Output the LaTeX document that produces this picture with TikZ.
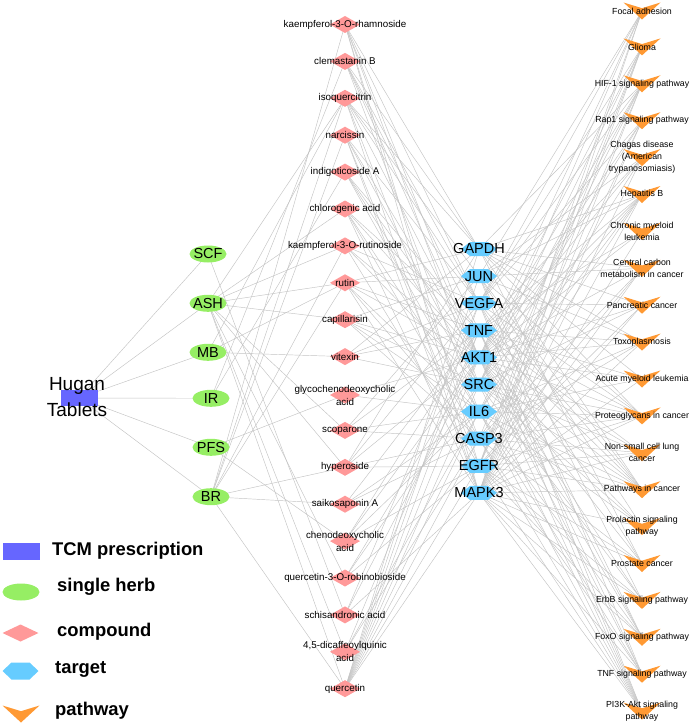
\documentclass[tikz,border=0pt]{standalone}
\usepackage{fontspec}
\setmainfont{Liberation Sans}
\usetikzlibrary{calc,shapes.geometric,backgrounds}

\definecolor{tcmblue}{RGB}{102,102,255}
\definecolor{herbgreen}{RGB}{150,238,100}
\definecolor{cpdpink}{RGB}{255,153,153}
\definecolor{tgtblue}{RGB}{102,204,255}
\definecolor{pathorange}{RGB}{255,153,51}
\definecolor{edgegray}{RGB}{195,195,195}

\tikzset{
	edge/.style={line width=0.45pt, color=edgegray},
	tcm/.style={rectangle, fill=tcmblue, minimum width=37pt, minimum height=16pt, inner sep=0pt},
	herb/.style={ellipse, fill=herbgreen, minimum width=37pt, minimum height=17pt, inner sep=0pt},
	cpd/.style={rectangle, minimum width=30pt, minimum height=17pt, inner sep=0pt,
		path picture={\fill[cpdpink] (path picture bounding box.west) -- (path picture bounding box.north)
			-- (path picture bounding box.east) -- (path picture bounding box.south) -- cycle;}},
	tgt/.style={rectangle, minimum width=36pt, minimum height=14pt, inner sep=0pt,
		path picture={\fill[tgtblue] (path picture bounding box.west)
			-- ($(path picture bounding box.north west)!.25!(path picture bounding box.north east)$)
			-- ($(path picture bounding box.north west)!.75!(path picture bounding box.north east)$)
			-- (path picture bounding box.east)
			-- ($(path picture bounding box.south west)!.75!(path picture bounding box.south east)$)
			-- ($(path picture bounding box.south west)!.25!(path picture bounding box.south east)$) -- cycle;}},
	pwy/.style={rectangle, minimum width=37pt, minimum height=17pt, inner sep=0pt,
		path picture={\fill[pathorange] (path picture bounding box.north west)
			-- ($(path picture bounding box.north)!.333!(path picture bounding box.south)$)
			-- (path picture bounding box.north east) -- (path picture bounding box.south) -- cycle;}},
	tcmtxt/.style={font=\fontsize{19}{26.5}\selectfont, align=center, inner sep=0pt},
	herbtxt/.style={font=\fontsize{14.5}{16}\selectfont, inner sep=0pt},
	cpdtxt/.style={font=\fontsize{9.8}{13}\selectfont, align=center, inner sep=0pt},
	tgttxt/.style={font=\fontsize{14.5}{16}\selectfont, inner sep=0pt},
	pwytxt/.style={font=\fontsize{8.8}{12}\selectfont, align=center, inner sep=0pt},
	legtxt/.style={font=\bfseries\fontsize{18.4}{20}\selectfont, inner sep=0pt, anchor=base west}
}

\begin{document}
\begin{tikzpicture}[x=1pt, y=-1pt]
			%%%%% START %%%%%
			\useasboundingbox (0, 0) rectangle (692, 725);
			
			% prescription
			\node[tcm, label={[tcmtxt, xshift=-2pt, yshift=1pt]center:Hugan\\Tablets}] (hugan) at (79, 398) {};
			
			% herbs
			\node[herb, label={[herbtxt]center:SCF}] (SCF) at (208, 254) {};
			\node[herb, label={[herbtxt]center:ASH}] (ASH) at (208, 303.3) {};
			\node[herb, label={[herbtxt]center:MB}] (MB) at (208, 352.3) {};
			\node[herb, label={[herbtxt]center:IR}] (IR) at (211, 398.3) {};
			\node[herb, label={[herbtxt]center:PFS}] (PFS) at (211, 447.3) {};
			\node[herb, label={[herbtxt]center:BR}] (BR) at (211, 496.7) {};
			
			% compounds
			\node[cpd, label={[cpdtxt]center:kaempferol-3-O-rhamnoside}] (kr3) at (345, 24.5) {};
			\node[cpd, label={[cpdtxt]center:clemastanin B}] (clemB) at (345, 61.4) {};
			\node[cpd, label={[cpdtxt]center:isoquercitrin}] (isoq) at (345, 98.3) {};
			\node[cpd, label={[cpdtxt]center:narcissin}] (narc) at (345, 135.2) {};
			\node[cpd, label={[cpdtxt]center:indigoticoside A}] (indA) at (345, 172.1) {};
			\node[cpd, label={[cpdtxt]center:chlorogenic acid}] (chlA) at (345, 209.0) {};
			\node[cpd, label={[cpdtxt]center:kaempferol-3-O-rutinoside}] (kru3) at (345, 245.9) {};
			\node[cpd, label={[cpdtxt]center:rutin}] (rutin) at (345, 282.8) {};
			\node[cpd, label={[cpdtxt]center:capillarisin}] (capil) at (345, 319.7) {};
			\node[cpd, label={[cpdtxt]center:vitexin}] (vitex) at (345, 356.6) {};
			\node[cpd, label={[cpdtxt]center:{glycochenodeoxycholic\\acid}}] (gcdca) at (345, 395) {};
			\node[cpd, label={[cpdtxt]center:scoparone}] (scop) at (345, 430.4) {};
			\node[cpd, label={[cpdtxt]center:hyperoside}] (hyper) at (345, 467.3) {};
			\node[cpd, label={[cpdtxt]center:saikosaponin A}] (saikA) at (345, 504.2) {};
			\node[cpd, label={[cpdtxt]center:{chenodeoxycholic\\acid}}] (cdca) at (345, 541.1) {};
			\node[cpd, label={[cpdtxt]center:quercetin-3-O-robinobioside}] (qrob) at (345, 578.0) {};
			\node[cpd, label={[cpdtxt]center:schisandronic acid}] (schA) at (345, 614.9) {};
			\node[cpd, label={[cpdtxt]center:{4,5-dicaffeoylquinic\\acid}}] (dcqa) at (345, 651.8) {};
			\node[cpd, label={[cpdtxt]center:quercetin}] (querc) at (345, 688.7) {};
			
			% targets
			\node[tgt, label={[tgttxt]center:GAPDH}] (GAPDH) at (479, 249) {};
			\node[tgt, label={[tgttxt]center:JUN}] (JUN) at (479, 276.1) {};
			\node[tgt, label={[tgttxt]center:VEGFA}] (VEGFA) at (479, 303.2) {};
			\node[tgt, label={[tgttxt]center:TNF}] (TNF) at (479, 330.3) {};
			\node[tgt, label={[tgttxt]center:AKT1}] (AKT1) at (479, 357.4) {};
			\node[tgt, label={[tgttxt]center:SRC}] (SRC) at (479, 384.5) {};
			\node[tgt, label={[tgttxt]center:IL6}] (IL6) at (479, 411.6) {};
			\node[tgt, label={[tgttxt]center:CASP3}] (CASP3) at (479, 438.7) {};
			\node[tgt, label={[tgttxt]center:EGFR}] (EGFR) at (479, 465.8) {};
			\node[tgt, label={[tgttxt]center:MAPK3}] (MAPK3) at (479, 492.9) {};
			
			% pathways
			\node[pwy, label={[pwytxt]center:Focal adhesion}] (focal) at (642, 11) {};
			\node[pwy, label={[pwytxt]center:Glioma}] (glioma) at (642, 46.9) {};
			\node[pwy, label={[pwytxt]center:HIF-1 signaling pathway}] (hif1) at (642, 83.8) {};
			\node[pwy, label={[pwytxt]center:Rap1 signaling pathway}] (rap1) at (642, 120.7) {};
			\node[pwy, label={[pwytxt]center:{Chagas disease\\(American\\trypanosomiasis)}}] (chagas) at (642, 157.6) {};
			\node[pwy, label={[pwytxt]center:Hepatitis B}] (hepB) at (642, 194.5) {};
			\node[pwy, label={[pwytxt]center:{Chronic myeloid\\leukemia}}] (cml) at (642, 231.4) {};
			\node[pwy, label={[pwytxt]center:{Central carbon\\metabolism in cancer}}] (carbon) at (642, 268.3) {};
			\node[pwy, label={[pwytxt]center:Pancreatic cancer}] (pancr) at (642, 305.2) {};
			\node[pwy, label={[pwytxt]center:Toxoplasmosis}] (toxo) at (642, 342.1) {};
			\node[pwy, label={[pwytxt]center:Acute myeloid leukemia}] (aml) at (642, 379.0) {};
			\node[pwy, label={[pwytxt]center:Proteoglycans in cancer}] (proteo) at (642, 415.9) {};
			\node[pwy, label={[pwytxt]center:{Non-small cell lung\\cancer}}] (nsclc) at (642, 452.8) {};
			\node[pwy, label={[pwytxt]center:Pathways in cancer}] (cancer) at (642, 489.7) {};
			\node[pwy, label={[pwytxt]center:{Prolactin signaling\\pathway}}] (prolac) at (642, 526.6) {};
			\node[pwy, label={[pwytxt]center:Prostate cancer}] (prost) at (642, 563.5) {};
			\node[pwy, label={[pwytxt]center:ErbB signaling pathway}] (erbb) at (642, 600.4) {};
			\node[pwy, label={[pwytxt]center:FoxO signaling pathway}] (foxo) at (642, 637.3) {};
			\node[pwy, label={[pwytxt]center:TNF signaling pathway}] (tnfsig) at (642, 674.2) {};
			\node[pwy, label={[pwytxt]center:{PI3K-Akt signaling\\pathway}}] (pi3k) at (642, 711.1) {};
			
			% edges, behind the nodes
			\begin{scope}[on background layer]
			\foreach \h in {SCF,ASH,MB,IR,PFS,BR} \draw[edge] (hugan.center) -- (\h.center);
			
			\foreach \c in {schA} \draw[edge] (SCF.center) -- (\c.center);
			\foreach \c in {isoq,chlA,kru3,rutin,capil,scop,hyper,qrob,dcqa,querc} \draw[edge] (ASH.center) -- (\c.center);
			\foreach \c in {isoq,rutin,vitex} \draw[edge] (MB.center) -- (\c.center);
			\foreach \c in {clemB,indA} \draw[edge] (IR.center) -- (\c.center);
			\foreach \c in {gcdca,cdca} \draw[edge] (PFS.center) -- (\c.center);
			\foreach \c in {kr3,narc,kru3,isoq,rutin,hyper,saikA,querc} \draw[edge] (BR.center) -- (\c.center);
			
			\foreach \t in {GAPDH,VEGFA,AKT1,SRC,EGFR,MAPK3} \draw[edge] (kr3.center) -- (\t.center);
			\foreach \t in {GAPDH,VEGFA,TNF,AKT1,IL6} \draw[edge] (clemB.center) -- (\t.center);
			\foreach \t in {GAPDH,JUN,VEGFA,AKT1,CASP3,MAPK3} \draw[edge] (isoq.center) -- (\t.center);
			\foreach \t in {VEGFA,AKT1,SRC,EGFR,MAPK3} \draw[edge] (narc.center) -- (\t.center);
			\foreach \t in {TNF,AKT1,SRC,IL6} \draw[edge] (indA.center) -- (\t.center);
			\foreach \t in {TNF,AKT1,IL6,CASP3,MAPK3} \draw[edge] (chlA.center) -- (\t.center);
			\foreach \t in {VEGFA,AKT1,SRC,EGFR} \draw[edge] (kru3.center) -- (\t.center);
			\foreach \t in {GAPDH,JUN,TNF,AKT1,IL6,CASP3,MAPK3} \draw[edge] (rutin.center) -- (\t.center);
			\foreach \t in {JUN,AKT1,SRC,IL6,CASP3} \draw[edge] (capil.center) -- (\t.center);
			\foreach \t in {GAPDH,VEGFA,TNF,SRC} \draw[edge] (vitex.center) -- (\t.center);
			\foreach \t in {AKT1,IL6} \draw[edge] (gcdca.center) -- (\t.center);
			\foreach \t in {JUN,TNF,IL6,CASP3} \draw[edge] (scop.center) -- (\t.center);
			\foreach \t in {GAPDH,VEGFA,AKT1,CASP3,EGFR} \draw[edge] (hyper.center) -- (\t.center);
			\foreach \t in {TNF,IL6,CASP3} \draw[edge] (saikA.center) -- (\t.center);
			\foreach \t in {TNF,AKT1,IL6,EGFR} \draw[edge] (cdca.center) -- (\t.center);
			\foreach \t in {AKT1,SRC,EGFR} \draw[edge] (qrob.center) -- (\t.center);
			\foreach \t in {VEGFA,AKT1,MAPK3} \draw[edge] (schA.center) -- (\t.center);
			\foreach \t in {TNF,IL6,CASP3} \draw[edge] (dcqa.center) -- (\t.center);
			\foreach \t in {GAPDH,JUN,VEGFA,TNF,AKT1,SRC,IL6,CASP3,EGFR,MAPK3} \draw[edge] (querc.center) -- (\t.center);
			
			\foreach \p in {hif1,hepB,carbon,pancr,toxo,aml,proteo,cancer,prost} \draw[edge] (GAPDH.center) -- (\p.center);
			\foreach \p in {focal,chagas,hepB,carbon,toxo,proteo,cancer,prolac,erbb,tnfsig} \draw[edge] (JUN.center) -- (\p.center);
			\foreach \p in {focal,glioma,hif1,rap1,pancr,proteo,cancer,prost,foxo,pi3k} \draw[edge] (VEGFA.center) -- (\p.center);
			\foreach \p in {chagas,hepB,cml,toxo,aml,proteo,nsclc,cancer,foxo,tnfsig,pi3k} \draw[edge] (TNF.center) -- (\p.center);
			\foreach \p in {focal,glioma,hif1,rap1,chagas,hepB,cml,carbon,pancr,toxo,aml,proteo,nsclc,cancer,prolac,prost,erbb,foxo,tnfsig,pi3k} \draw[edge] (AKT1.center) -- (\p.center);
			\foreach \p in {focal,glioma,hif1,rap1,hepB,pancr,proteo,nsclc,cancer,prolac,erbb,pi3k} \draw[edge] (SRC.center) -- (\p.center);
			\foreach \p in {hif1,chagas,hepB,toxo,aml,proteo,cancer,prolac,foxo,tnfsig,pi3k} \draw[edge] (IL6.center) -- (\p.center);
			\foreach \p in {glioma,hepB,carbon,toxo,proteo,nsclc,cancer,prost,tnfsig,pi3k} \draw[edge] (CASP3.center) -- (\p.center);
			\foreach \p in {focal,glioma,hif1,rap1,carbon,pancr,proteo,nsclc,cancer,prost,erbb,foxo,pi3k} \draw[edge] (EGFR.center) -- (\p.center);
			\foreach \p in {focal,glioma,hif1,rap1,chagas,hepB,cml,carbon,pancr,toxo,aml,proteo,nsclc,cancer,prolac,prost,erbb,foxo,tnfsig,pi3k} \draw[edge] (MAPK3.center) -- (\p.center);
			\end{scope}
			
			% legend
			\node[tcm, minimum height=17pt] (legTCM) at (21, 551) {};
			\node[legtxt] (legTCMtxt) at (52, 555) {TCM prescription};
			\node[herb] (legHerb) at (21, 592) {};
			\node[legtxt] (legHerbtxt) at (57, 591.7) {single herb};
			\node[cpd, minimum width=36pt] (legCpd) at (20.5, 633) {};
			\node[legtxt] (legCpdtxt) at (57, 636) {compound};
			\node[tgt, minimum height=17pt] (legTgt) at (20.5, 671) {};
			\node[legtxt] (legTgttxt) at (55, 673.3) {target};
			\node[pwy] (legPwy) at (21, 714) {};
			\node[legtxt] (legPwytxt) at (55, 715) {pathway};
			
			%%%%% END %%%%%
		\end{tikzpicture}
\end{document}
